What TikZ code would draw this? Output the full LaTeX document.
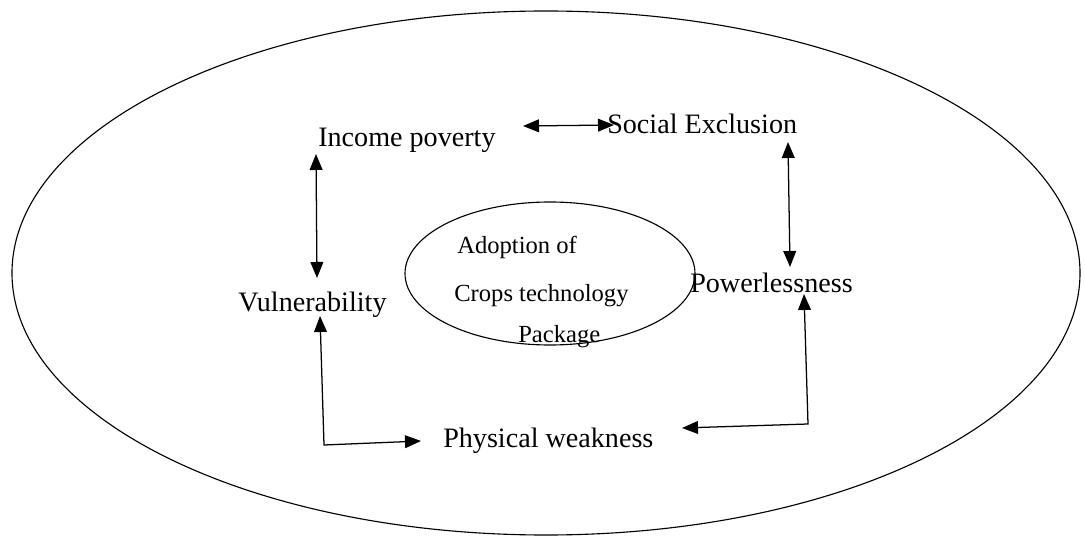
\documentclass[tikz,border=0pt]{standalone}
\usepackage{fontspec}
\setmainfont{Liberation Serif}
\usetikzlibrary{arrows.meta}
\begin{document}
\begin{tikzpicture}[x=0.025cm,y=-0.025cm,
  lbl/.style={anchor=base west,inner sep=0pt,font=\fontsize{20}{24}\selectfont},
  inlbl/.style={anchor=base west,inner sep=0pt,font=\fontsize{17.5}{21}\selectfont},
  arr/.style={line width=0.9pt,{Triangle[length=4mm,width=3.2mm]}-{Triangle[length=4mm,width=3.2mm]}},
  arrone/.style={line width=0.9pt,-{Triangle[length=4mm,width=3.2mm]}},
  ell/.style={draw,line width=0.8pt}]
\useasboundingbox (0,0) rectangle (1085,544);
% ellipses
\draw[ell] (546,273) ellipse [x radius=534, y radius=262];
\draw[ell] (550,273.5) ellipse [x radius=145, y radius=71.5];
% labels
\node[lbl] (inc) at (318,147) {Income poverty};
\node[lbl] (soc) at (607,134) {Social Exclusion};
\node[lbl] (vul) at (238,312) {Vulnerability};
\node[lbl] (pow) at (690,293) {Powerlessness};
\node[lbl] (phy) at (443,447) {Physical weakness};
\node[inlbl] (ad1) at (457,254) {Adoption of};
\node[inlbl] (ad2) at (454,302) {Crops technology};
\node[inlbl] (ad3) at (518,342) {Package};
% arrow end points
\coordinate (incR) at (523,126);
\coordinate (socL) at (614,125);
\coordinate (incB) at (316,154);
\coordinate (vulT) at (317,278);
\coordinate (socB) at (788,142);
\coordinate (powT) at (790,267);
\coordinate (vulB) at (320,316);
\coordinate (c1) at (324,445);
\coordinate (phyL) at (421,441);
\coordinate (powB) at (804,294);
\coordinate (c2) at (808,424);
\coordinate (phyR) at (682,428);
% connectors
\draw[arr] (incR) -- (socL);
\draw[arr] (incB) -- (vulT);
\draw[arr] (socB) -- (powT);
\draw[arr] (vulB) -- (c1) -- (phyL);
\draw[arr] (powB) -- (c2) -- (phyR);
\end{tikzpicture}
\end{document}
